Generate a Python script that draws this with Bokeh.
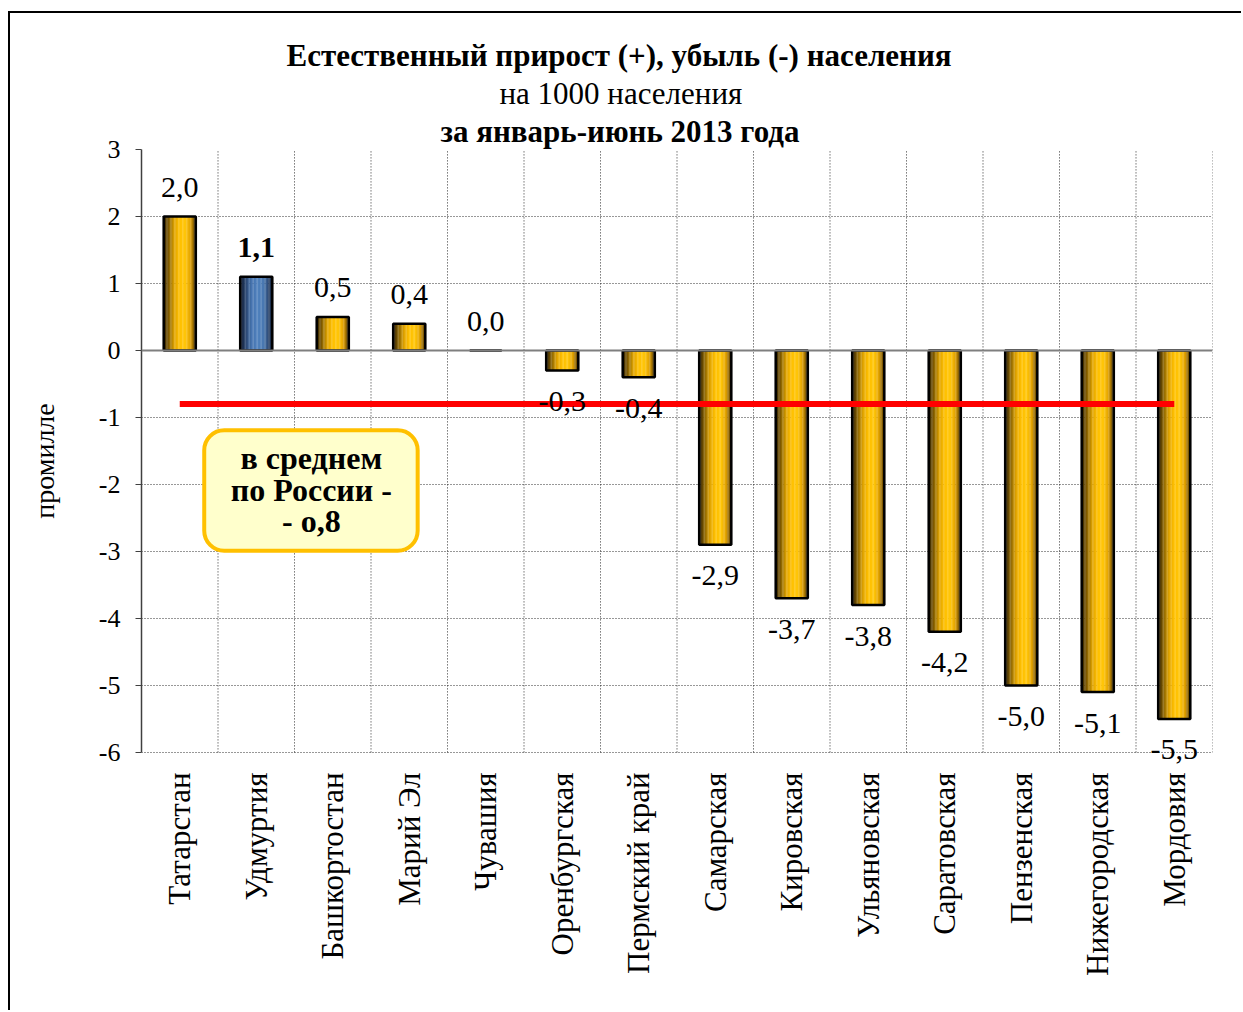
import math
from bokeh.plotting import figure
from bokeh.models import (ColumnDataSource, FactorRange, Range1d, FixedTicker, Span,
                          BoxAnnotation, Label, Title)
from bokeh.transform import dodge
from bokeh.core.properties import value
from bokeh.embed import file_html
from bokeh.resources import INLINE

# ---- data ----
regions = ["Татарстан", "Удмуртия", "Башкортостан", "Марий Эл", "Чувашия",
           "Оренбургская", "Пермский край", "Самарская", "Кировская", "Ульяновская",
           "Саратовская", "Пензенская", "Нижегородская", "Мордовия"]
rates = [2.0, 1.1, 0.5, 0.4, 0.0, -0.3, -0.4, -2.9, -3.7, -3.8, -4.2, -5.0, -5.1, -5.5]
highlight = "Удмуртия"
russia_avg = -0.8
y_ticks = [-6, -5, -4, -3, -2, -1, 0, 1, 2, 3]
title1 = "Естественный прирост (+), убыль (-) населения"
title2 = "на 1000 населения"
title3 = "за январь-июнь 2013 года"
y_title = "промилле"
note_lines = ["в среднем", "по России -", "- о,8"]

SERIF = "Liberation Serif"

def lerp_colors(stops, n):
    out = []
    for i in range(n):
        t = (i + 0.5) / n
        for (t0, c0), (t1, c1) in zip(stops[:-1], stops[1:]):
            if t0 <= t <= t1:
                f = (t - t0) / (t1 - t0)
                c = tuple(int(round(a + (b - a) * f)) for a, b in zip(c0, c1))
                out.append("#%02x%02x%02x" % c)
                break
    return out

gold_stops = [(0.0, (35, 24, 0)), (0.12, (110, 78, 0)), (0.34, (225, 165, 0)),
              (0.5, (255, 192, 0)), (0.68, (255, 198, 8)), (0.84, (225, 160, 0)),
              (1.0, (70, 48, 0))]
blue_stops = [(0.0, (15, 25, 45)), (0.15, (35, 60, 100)), (0.35, (70, 115, 175)),
              (0.55, (79, 129, 189)), (0.75, (72, 118, 175)), (0.9, (40, 65, 105)),
              (1.0, (18, 30, 50))]
NSTRIP = 24
gold = lerp_colors(gold_stops, NSTRIP)
blue = lerp_colors(blue_stops, NSTRIP)

data = dict(cat=regions, val=rates,
            lbl=[("%.1f" % v).replace(".", ",") for v in rates],
            yoff=[-29 if v >= 0 else 31 for v in rates],
            fstyle=["bold" if r == highlight else "normal" for r in regions])
for i in range(NSTRIP):
    data["c%d" % i] = [blue[i] if r == highlight else gold[i] for r in regions]
src = ColumnDataSource(data)

YMIN, YMAX = y_ticks[0], y_ticks[-1]
W, H = 1233, 999
p = figure(x_range=FactorRange(*regions), y_range=Range1d(YMIN - 0.3, YMAX),
           width=W, height=H, output_backend="svg", toolbar_location=None,
           min_border_left=131, min_border_top=136, min_border_right=31,
           min_border_bottom=240)
p.outline_line_color = None
p.background_fill_color = "white"
p.border_fill_color = "white"
p.styles = {"border-left": "2px solid black", "border-top": "2px solid black",
            "margin-left": "8px", "margin-top": "11px"}

# grids
p.ygrid.ticker = FixedTicker(ticks=y_ticks)
p.ygrid.grid_line_color = "#303030"
p.ygrid.grid_line_dash = "1 2"
p.ygrid.grid_line_width = 1
p.xgrid.grid_line_color = None
bounds = list(range(1, len(regions) + 1))
p.segment(x0=bounds, x1=bounds, y0=[YMIN] * len(bounds), y1=[YMAX] * len(bounds),
          line_color="#303030", line_dash="1 2", line_width=1)

# axes
p.yaxis.ticker = FixedTicker(ticks=y_ticks)
p.yaxis.bounds = (YMIN, YMAX)
p.yaxis.major_label_overrides = {t: str(t) for t in y_ticks}
p.yaxis.major_label_text_font = SERIF
p.yaxis.major_label_text_font_size = "26px"
p.yaxis.major_label_text_color = "black"
p.yaxis.major_tick_out = 6
p.yaxis.major_tick_in = 0
p.yaxis.minor_tick_line_color = None
p.yaxis.major_label_standoff = 15
p.yaxis.axis_line_color = "#404040"
p.yaxis.axis_line_width = 1.5
p.yaxis.major_tick_line_color = "#404040"
p.yaxis.axis_label = y_title
p.yaxis.axis_label_text_font = SERIF
p.yaxis.axis_label_text_font_size = "28px"
p.yaxis.axis_label_text_font_style = "normal"
p.yaxis.axis_label_text_color = "black"
p.yaxis.axis_label_standoff = 36

p.xaxis.axis_line_color = None
p.xaxis.major_tick_line_color = None
p.xaxis.major_tick_out = 0
p.xaxis.major_label_orientation = math.pi / 2
p.xaxis.major_label_text_font = SERIF
p.xaxis.major_label_text_font_size = "31px"
p.xaxis.major_label_text_color = "black"
p.xaxis.major_label_standoff = 0

# zero line
p.add_layout(Span(location=0, dimension="width", line_color="#7f7f7f", line_width=2))

# gradient bars
BW = 0.42
sw = BW / NSTRIP
for i in range(NSTRIP):
    off = -BW / 2 + (i + 0.5) * sw
    p.vbar(x=dodge("cat", off, range=p.x_range), top="val", bottom=0, width=sw * 1.15,
           fill_color="c%d" % i, line_color=None, source=src)
p.vbar(x="cat", top="val", bottom=0, width=BW, fill_color=None,
       line_color="black", line_width=2.5, source=src)

# average line
p.line(x=[regions[0], regions[-1]], y=[russia_avg, russia_avg],
       line_color="#FF0000", line_width=6)

# value labels
p.text(x="cat", y="val", text="lbl", y_offset="yoff", source=src,
       text_align="center", text_baseline="middle", text_font=value(SERIF),
       text_font_size="30px", text_font_style="fstyle", text_color="black")

# note box
box = BoxAnnotation(left=0.82, right=3.61, top=-1.19, bottom=-2.99,
                    fill_color="#FFFFCC", fill_alpha=1.0, line_color="#FFC000",
                    line_alpha=1.0, line_width=4, border_radius=20)
p.add_layout(box)
for k, t in enumerate(note_lines):
    p.add_layout(Label(x=2.22, y=-1.61 - 0.47 * k, text=t, text_align="center",
                       text_baseline="middle", text_font=SERIF, text_font_size="32px",
                       text_font_style="bold", text_color="black"))

# titles (first added is closest to the plot); left-aligned with offsets
for t, st, off in [(title3, "bold", 299), (title2, "normal", 358), (title1, "bold", 145)]:
    p.add_layout(Title(text=t, align="left", offset=off, standoff=1,
                       text_font=SERIF, text_font_size="31px", text_font_style=st,
                       text_color="black"), "above")

open("out.html", "w").write(file_html(p, INLINE))
